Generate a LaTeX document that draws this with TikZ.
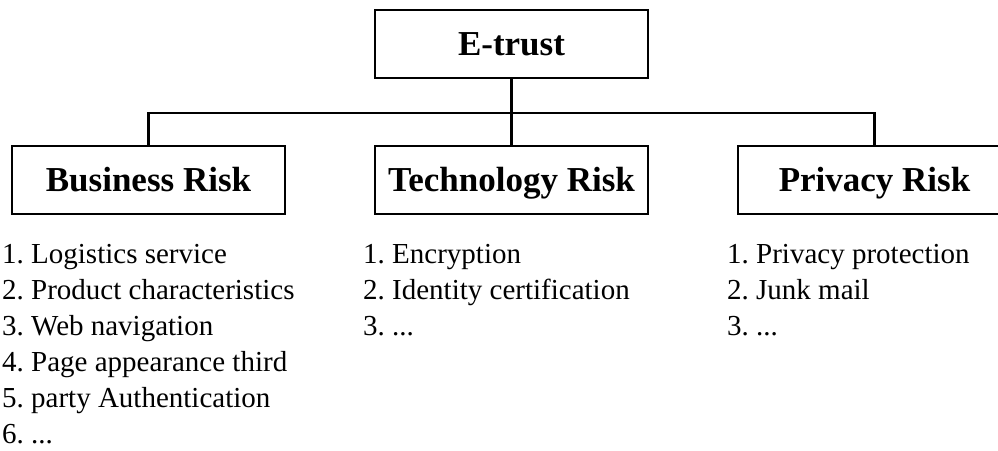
\documentclass[tikz,border=0pt]{standalone}
\usepackage{fontspec}
\setmainfont{Liberation Serif}
\frenchspacing
\begin{document}
\begin{tikzpicture}[x=1pt,y=-1pt,
  riskbox/.style={draw=black, line width=2.6pt, fill=white, minimum width=273pt, minimum height=68pt, inner sep=0pt, text height=25pt, text depth=3pt, font=\fontsize{35}{40}\selectfont\bfseries},
  conn/.style={draw=black, line width=2.6pt},
  item/.style={anchor=base west, inner sep=0pt, font=\fontsize{29}{35}\selectfont}
]
\clip (0,0) rectangle (998,450);
\node[riskbox] (et) at (511.5,44) {E-trust};
\node[riskbox] (br) at (148.5,180) {Business Risk};
\node[riskbox] (tr) at (511.5,180) {Technology Risk};
\node[riskbox] (pr) at (874.5,180) {Privacy Risk};
\coordinate (hub) at (511.5,113);
\draw[conn] (et.south) -- (tr.north);
\draw[conn] (br.north) |- (hub) -| (pr.north);
% Business list
\node[item] (b1) at (2,263) {1. Logistics service};
\node[item] (b2) at (2,299) {2. Product characteristics};
\node[item] (b3) at (2,335) {3. Web navigation};
\node[item] (b4) at (2,371) {4. Page appearance third};
\node[item] (b5) at (2,407) {5. party Authentication};
\node[item] (b6) at (2,443) {6. ...};
% Technology list
\node[item] (t1) at (363,263) {1. Encryption};
\node[item] (t2) at (363,299) {2. Identity certification};
\node[item] (t3) at (363,335) {3. ...};
% Privacy list
\node[item] (p1) at (727,263) {1. Privacy protection};
\node[item] (p2) at (727,299) {2. Junk mail};
\node[item] (p3) at (727,335) {3. ...};
\end{tikzpicture}
\end{document}
